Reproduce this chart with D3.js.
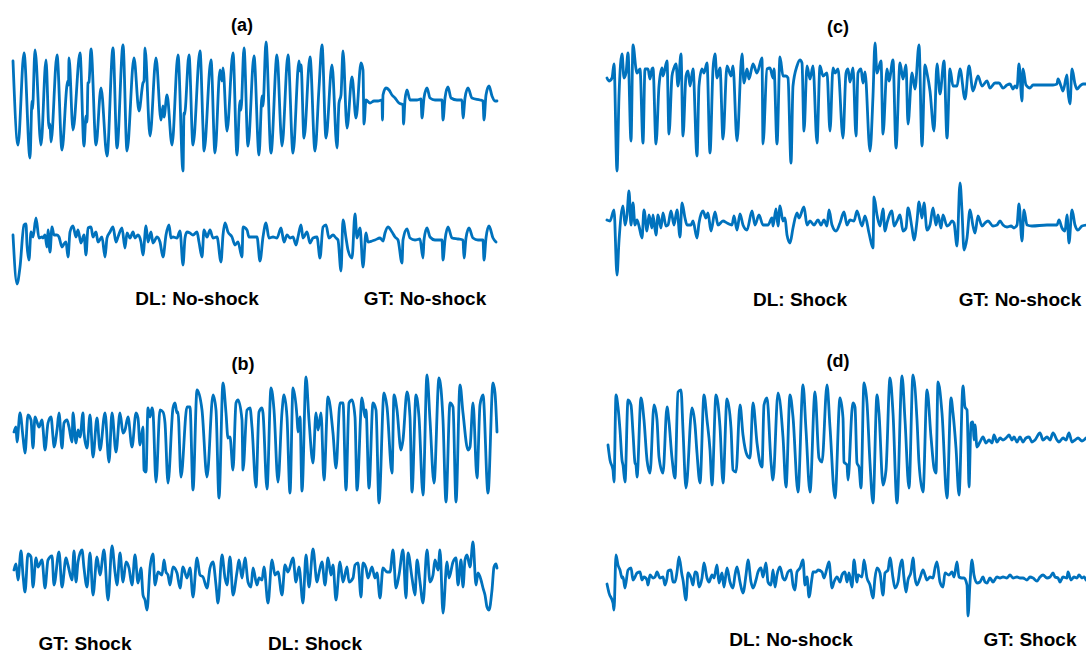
<!DOCTYPE html>
<html>
<head>
<meta charset="utf-8">
<script src="https://cdn.jsdelivr.net/npm/d3@7"></script>
<style>
  body { margin: 0; background: #fff; }
  svg { display: block; }
  text { font-family: "Liberation Sans", Arial, sans-serif; font-weight: bold; fill: #000; }
</style>
</head>
<body>
<svg id="chart" width="1086" height="653"></svg>
<script>
// traces: [sample, amplitude] pairs
var aTop = [[1,39],[6,-45],[12,47],[18,-58],[20,-1],[20.5,-9],[23,50],[29,-45],[34,40],[37,-28],[38,-24],[39,-42],[45,45],[50,-50],[55,15],[56,19],[56.5,15],[57,42],[61,-30],[68,47],[72,-46],[74,-16],[75,-22],[76,17],[77,18],[79,51],[84,-45],[89,12],[95,-56],[101,52],[105,-48],[111,55],[115,-51],[122,42],[127,-11],[131,17],[132,19],[133,52],[138,-36],[144,42],[149,-20],[151,-6],[152,-17],[155,5],[160,-45],[166,45],[171,-71],[172,-13],[172.5,-15],[177,45],[181,-45],[188,49],[191,-28],[192,-51],[199,40],[203,-53],[208,30],[210,19],[211,32],[215,-31],[221,47],[225,-55],[228,-1],[229,-10],[232,52],[236,-46],[242,44],[247,-55],[250,4],[251,-6],[254,58],[259,-53],[265,45],[269,-35],[270,-46],[276,45],[281,-53],[287,39],[288,29],[289,35],[292,-38],[298,43],[303,-51],[307,12],[310,55],[314,-38],[320,35],[325,-48],[327,-3],[329,5],[331,49],[335,-28],[340,23],[344,-18],[349,37],[351,30],[352,-24],[354,0],[358,-3],[362,-1],[366,-1],[370,0],[370.5,-20],[371,5],[374,12],[377,10],[380,5],[383,2],[387,-3],[391,-5],[391.5,-24],[393,0],[395,10],[398,0],[405,0],[409,1],[410,-18],[412,2],[415,12],[418,2],[423,0],[430,0],[431,-20],[433,2],[436,13],[439,2],[445,0],[450,0],[451,-18],[453,2],[456,12],[460,2],[468,0],[471,-1],[472,-20],[474,5],[477,14],[480,4],[483,-1],[485,-1]];
var aBottom = [[1,5],[5,-44],[8,-27],[12,15],[14,16],[15,-5],[17,-20],[19,8],[21,3],[24,22],[27,2],[30,3],[31,2],[33,5],[35,-7],[36,10],[38,-12],[40,13],[42,5],[45,5],[47,3],[50,-7],[52,-4],[54,-2],[56,-17],[58,8],[61,14],[64,3],[66,10],[69,-3],[72,5],[74,-15],[76,12],[79,13],[81,3],[84,8],[86,-2],[90,3],[93,-17],[95,2],[98,8],[101,13],[104,-2],[106,3],[110,12],[113,-8],[115,7],[118,2],[121,8],[123,2],[126,5],[129,-2],[131,-15],[134,14],[136,-2],[139,8],[141,-3],[145,3],[148,-2],[151,-17],[154,5],[157,15],[159,2],[161,3],[165,2],[168,9],[171,-25],[173,2],[175,8],[178,7],[181,5],[185,8],[187,-2],[190,-17],[192,10],[195,3],[198,10],[201,2],[205,3],[209,-22],[211,5],[213,17],[216,8],[220,3],[223,-5],[226,-2],[230,-17],[231,13],[235,10],[237,3],[241,3],[245,3],[248,-21],[251,3],[254,17],[257,2],[261,3],[265,2],[269,12],[272,-2],[275,5],[278,2],[281,3],[284,-5],[286,3],[289,15],[291,2],[295,8],[298,-3],[301,2],[305,3],[308,-18],[311,13],[314,15],[317,2],[321,5],[324,2],[326,0],[329,-31],[331,20],[334,2],[336,-10],[340,-18],[343,26],[345,2],[348,12],[351,-27],[354,7],[356,-2],[360,-1],[363,0],[368,2],[371,-1],[373,7],[376,13],[380,8],[383,3],[386,0],[390,-23],[391,0],[395,11],[398,2],[403,0],[408,1],[411,-18],[412,0],[415,12],[418,3],[423,0],[430,0],[431,-20],[433,0],[436,13],[440,2],[446,1],[451,0],[452,-18],[454,2],[457,12],[461,2],[466,0],[471,0],[472,-20],[474,2],[477,14],[481,2],[484,-2]];
var bTop = [[2,3],[4,8],[5,-7],[8,22],[11,-2],[13,-18],[16,20],[19,15],[21,-13],[23,18],[25,13],[27,8],[30,15],[31,7],[33,-15],[36,12],[39,18],[41,-2],[42,-12],[45,5],[47,22],[50,-13],[52,12],[55,15],[57,8],[60,-7],[61,22],[64,-8],[66,5],[68,-2],[71,22],[72,2],[75,-13],[78,20],[81,-22],[85,17],[88,-15],[93,22],[97,-27],[100,22],[104,-17],[108,22],[111,2],[113,5],[116,18],[120,-12],[124,22],[126,17],[128,-10],[131,8],[132,-35],[134,-37],[136,27],[138,18],[140,27],[141,23],[144,-47],[148,25],[151,23],[153,12],[156,-48],[161,27],[163,32],[165,22],[166,23],[169,-42],[175,28],[178,28],[181,-55],[185,45],[190,25],[195,-42],[201,40],[204,25],[207,-63],[211,52],[214,22],[216,-3],[218,-2],[221,-35],[224,32],[226,35],[230,15],[231,-35],[235,25],[238,27],[240,8],[244,-52],[247,23],[250,27],[251,22],[255,-54],[259,47],[262,25],[266,-47],[270,23],[272,40],[275,18],[278,-58],[281,47],[285,18],[286,3],[288,18],[290,-56],[294,58],[297,15],[301,-28],[304,22],[306,5],[309,22],[312,-45],[316,38],[321,2],[324,-33],[328,32],[331,32],[334,-55],[337,32],[340,35],[343,18],[345,-55],[350,37],[353,18],[354,25],[357,-53],[361,32],[364,25],[367,-68],[372,42],[375,28],[380,-38],[382,40],[385,25],[389,-15],[391,-5],[395,43],[398,18],[400,-57],[404,40],[407,18],[411,-60],[415,60],[418,15],[422,-48],[427,57],[431,15],[434,-67],[438,32],[441,28],[444,-67],[448,50],[451,22],[456,-15],[458,-12],[461,32],[465,-43],[468,30],[471,40],[476,-58],[481,52],[483,42],[485,3]];
var bBottom = [[2,0],[4,6],[6,-10],[9,19],[11,-5],[13,-22],[16,16],[19,13],[21,-17],[24,12],[26,3],[30,10],[33,-18],[36,10],[40,14],[42,-15],[47,18],[50,-17],[54,12],[56,5],[60,-10],[62,19],[64,-12],[66,8],[70,20],[72,2],[75,-17],[78,17],[81,-25],[85,13],[88,-5],[92,20],[96,-30],[100,24],[103,-2],[105,-15],[108,17],[111,-12],[114,8],[117,2],[120,-15],[123,15],[126,-13],[129,2],[131,-25],[133,-30],[135,-40],[138,2],[141,16],[143,-15],[146,-2],[150,-5],[152,10],[154,-2],[156,-5],[158,-15],[161,3],[165,-3],[168,-18],[171,3],[175,-8],[178,2],[181,-27],[185,12],[188,-5],[191,-7],[195,-18],[198,2],[201,8],[204,-15],[206,-33],[210,15],[213,-8],[215,-15],[218,13],[221,-25],[225,-2],[227,10],[230,-8],[233,12],[236,-12],[239,-17],[241,2],[245,-15],[247,-8],[250,-10],[252,3],[256,-33],[260,10],[263,-5],[266,-2],[270,-25],[273,5],[276,-2],[281,12],[284,-12],[287,3],[291,-33],[294,15],[297,-17],[301,21],[305,-12],[307,-3],[310,8],[313,-15],[316,12],[319,-5],[321,5],[324,-30],[328,8],[331,-12],[335,3],[337,-12],[341,-8],[343,5],[346,7],[349,-27],[351,7],[354,2],[356,-8],[360,3],[363,-8],[365,-3],[368,-28],[371,2],[375,-2],[378,-2],[381,20],[384,-18],[387,-5],[391,20],[394,-28],[396,17],[400,-8],[403,-25],[405,10],[408,-12],[411,-33],[415,20],[418,-12],[421,-5],[423,10],[426,0],[428,20],[431,-43],[435,8],[437,-8],[441,8],[444,12],[446,-15],[449,10],[451,-17],[453,10],[455,15],[458,3],[461,28],[464,-15],[466,-3],[469,-10],[471,-18],[473,-25],[475,-37],[477,-40],[480,-20],[482,3],[484,6],[485,2]];
var cTop = [[0,7],[2,4],[5,7],[7,21],[10,-86],[12,-11],[15,31],[17,7],[19,12],[21,32],[24,-56],[26,40],[29,16],[30,12],[33,16],[36,-58],[38,16],[41,16],[43,6],[45,16],[46,17],[49,-59],[52,-1],[55,17],[56,9],[60,24],[62,-49],[65,9],[67,17],[69,21],[71,-1],[74,31],[76,-51],[79,9],[81,14],[83,-1],[86,16],[90,-71],[92,-1],[95,16],[97,12],[100,22],[103,-68],[106,16],[108,31],[110,7],[113,17],[116,-54],[120,19],[124,9],[126,19],[130,-56],[135,31],[137,2],[140,16],[142,6],[146,21],[150,12],[155,27],[156,-59],[160,16],[163,17],[166,7],[167,16],[170,-59],[173,28],[176,9],[179,9],[181,7],[184,-78],[186,-1],[190,19],[193,25],[195,22],[197,-46],[200,19],[203,6],[206,19],[210,-58],[213,19],[216,9],[220,12],[223,-46],[226,17],[228,12],[231,16],[236,-53],[239,12],[241,16],[243,3],[246,17],[249,-51],[251,12],[254,16],[256,2],[258,13],[263,-66],[266,-11],[268,42],[270,12],[274,24],[276,-49],[280,16],[282,4],[286,25],[289,-63],[293,22],[296,6],[299,20],[301,-39],[305,12],[308,-4],[312,40],[315,-61],[318,20],[320,12],[323,-6],[327,-46],[330,21],[333,-9],[337,24],[340,-53],[343,16],[346,-1],[350,-1],[353,16],[358,-14],[362,19],[366,-6],[371,9],[375,-1],[380,4],[383,-3],[388,2],[392,2],[396,-3],[400,0],[403,1],[406,-4],[408,-1],[410,-3],[412,21],[415,-16],[416,16],[419,0],[423,-3],[426,0],[433,0],[446,0],[450,1],[451,6],[454,-1],[456,-6],[460,10],[461,-6],[463,-19],[465,16],[468,1],[470,-4],[473,-1],[476,1],[479,1]];
var cBottom = [[0,5],[3,4],[7,15],[10,-50],[12,-16],[16,19],[18,0],[20,10],[22,34],[24,0],[26,22],[28,0],[30,5],[32,-1],[35,-13],[37,15],[40,-6],[42,10],[45,-3],[46,10],[49,-10],[51,10],[54,-3],[56,12],[59,-1],[61,0],[64,14],[67,0],[70,15],[73,-12],[75,22],[78,7],[80,0],[84,0],[86,4],[90,-13],[92,2],[96,14],[99,7],[101,12],[104,-6],[108,13],[111,0],[116,4],[120,2],[125,0],[127,9],[130,-5],[133,11],[136,0],[140,-5],[145,14],[148,0],[152,10],[156,0],[161,0],[165,7],[166,-1],[169,16],[171,-1],[173,19],[176,4],[178,7],[180,-10],[183,-18],[186,-3],[190,12],[192,7],[197,18],[200,0],[203,4],[207,0],[211,5],[214,0],[217,5],[220,-1],[222,15],[225,0],[229,-6],[233,2],[237,13],[240,0],[243,5],[247,4],[250,14],[255,-1],[258,9],[262,-8],[266,-23],[267,28],[270,10],[273,-1],[276,16],[278,-6],[280,2],[285,14],[287,-1],[290,4],[293,10],[296,-6],[299,-3],[301,17],[305,-3],[307,-15],[310,4],[312,23],[315,7],[317,22],[320,-5],[323,0],[326,17],[329,0],[331,10],[334,-3],[336,10],[340,-1],[342,0],[345,4],[347,2],[350,-21],[353,42],[355,14],[357,-25],[360,-13],[363,15],[366,-1],[368,-8],[371,9],[375,-1],[378,2],[381,4],[386,-1],[390,0],[393,4],[396,0],[400,-2],[404,-1],[407,-3],[410,0],[412,21],[415,-16],[417,15],[420,0],[425,-1],[440,0],[450,0],[452,5],[455,-3],[458,-6],[460,10],[462,-18],[465,15],[468,0],[471,-5],[475,-1],[480,0]];
var dTop = [[1,-7],[3,-22],[6,-32],[7,-44],[9,43],[11,31],[13,8],[15,-22],[16,-27],[18,-44],[21,38],[24,33],[26,5],[28,-25],[29,-27],[30,-39],[34,40],[37,18],[40,-22],[43,-35],[47,33],[50,18],[52,-19],[56,-35],[60,31],[62,16],[65,-20],[68,-40],[71,46],[74,48],[76,8],[79,-50],[85,30],[88,13],[90,-15],[93,-45],[97,43],[100,18],[103,-12],[105,-47],[109,43],[113,11],[116,-45],[120,39],[124,10],[126,-32],[129,-34],[133,33],[136,3],[140,-17],[143,-20],[146,35],[150,-5],[153,-25],[155,-29],[157,33],[160,40],[164,-24],[166,-42],[171,45],[176,1],[179,-49],[183,43],[186,21],[191,-54],[196,53],[199,8],[203,-54],[208,46],[212,-20],[215,-24],[220,53],[223,11],[228,-60],[233,40],[236,20],[237,-24],[240,-27],[241,-42],[245,28],[246,35],[248,31],[250,-25],[252,-29],[254,-50],[257,55],[260,35],[263,-25],[266,-65],[270,43],[272,25],[276,-47],[279,-32],[283,60],[286,25],[290,-65],[295,62],[298,18],[302,-50],[306,63],[310,18],[312,-25],[316,-54],[320,48],[324,1],[327,-30],[329,-35],[331,56],[335,25],[340,-60],[344,40],[346,25],[349,-10],[352,-57],[356,52],[358,31],[360,28],[361,-5],[362,-49],[364,15],[366,16],[367,-2],[368,13],[370,-9],[373,-4],[376,1],[379,-5],[382,-2],[385,-5],[387,3],[390,-4],[393,0],[396,-2],[400,1],[402,3],[405,-2],[407,1],[410,-4],[413,1],[416,-4],[419,0],[422,1],[425,-4],[428,-2],[433,5],[436,-2],[440,1],[443,-2],[446,5],[450,-2],[452,-4],[456,0],[459,-2],[462,5],[465,-4],[468,-2],[471,0],[475,-3],[479,0]];
var dBottom = [[0,-6],[2,-15],[6,-25],[7,-32],[9,23],[11,13],[13,8],[15,0],[16,1],[18,-10],[21,8],[24,10],[26,-2],[28,1],[30,5],[33,6],[35,-2],[37,1],[40,-2],[41,-7],[43,3],[46,0],[48,1],[50,6],[53,0],[56,1],[58,-7],[60,0],[61,7],[64,8],[66,-4],[68,-4],[70,6],[72,21],[75,3],[76,-2],[79,-22],[81,5],[84,0],[86,-7],[88,6],[90,5],[92,-9],[95,0],[97,15],[100,0],[102,-4],[105,3],[107,0],[110,13],[112,-5],[115,5],[117,-9],[120,10],[123,-4],[126,-10],[128,3],[130,11],[133,-4],[136,-15],[139,3],[141,18],[144,-4],[146,-10],[149,-2],[151,6],[154,10],[156,1],[159,15],[161,-4],[164,-7],[166,8],[168,-9],[170,3],[173,11],[176,0],[178,-2],[181,6],[184,8],[186,-7],[188,-12],[190,6],[193,10],[196,18],[198,-7],[200,1],[202,-19],[205,0],[206,6],[209,6],[211,8],[215,6],[217,0],[220,10],[222,16],[225,-10],[227,-4],[230,1],[233,-4],[235,3],[238,6],[240,-4],[242,5],[245,-9],[247,18],[250,-4],[251,3],[255,1],[257,18],[260,0],[263,-7],[266,-20],[268,0],[270,10],[273,5],[276,-17],[278,5],[281,8],[283,20],[286,0],[288,-10],[291,-4],[293,11],[295,18],[297,0],[299,-14],[301,-2],[304,6],[306,20],[308,0],[310,-7],[313,0],[316,8],[318,3],[320,-2],[323,1],[326,0],[328,10],[330,16],[333,-4],[336,-9],[338,5],[342,3],[345,6],[347,1],[350,16],[352,1],[355,0],[357,0],[360,-7],[361,-38],[363,-5],[365,18],[367,3],[370,-5],[373,-4],[376,1],[378,-4],[380,-5],[383,0],[386,-4],[390,1],[393,0],[396,1],[400,0],[403,3],[406,0],[410,1],[413,0],[416,0],[420,-2],[423,1],[426,0],[430,-3],[433,1],[436,3],[440,0],[443,1],[446,5],[448,1],[451,0],[453,-4],[456,1],[460,0],[461,6],[464,-2],[467,1],[470,0],[472,3],[475,0],[477,1],[479,-2]];

var panelTitles = ["(a)", "(b)", "(c)", "(d)"];
var leftLabels = ["DL: No-shock", "GT: Shock", "DL: Shock", "DL: No-shock"];
var rightLabels = ["GT: No-shock", "DL: Shock", "GT: No-shock", "GT: Shock"];

var lineColor = "#0072BD";
var svg = d3.select("#chart");

// left column spans 12..497, right column 607..1086
var xLeft = d3.scaleLinear().domain([0, 485]).range([12, 497]);
var xRight = d3.scaleLinear().domain([0, 479]).range([607, 1086]);

var panels = [
    {x: xLeft,  top: aTop, bottom: aBottom, base: [100, 240], titleY: 31,  titleX: 242, labY: 305, labX: [197, 425]},
    {x: xLeft,  top: bTop, bottom: bBottom, base: [435, 570], titleY: 370, titleX: 243, labY: 650, labX: [85, 315]},
    {x: xRight, top: cTop, bottom: cBottom, base: [85, 225],  titleY: 33,  titleX: 838, labY: 306, labX: [800, 1020]},
    {x: xRight, top: dTop, bottom: dBottom, base: [438, 578], titleY: 367, titleX: 838, labY: 646, labX: [791, 1030]}
];

function drawTrace(data, xs, baseline) {
    var y = d3.scaleLinear().domain([-100, 100]).range([baseline + 100, baseline - 100]);
    var line = d3.line()
        .curve(d3.curveMonotoneX)
        .x(function(d) { return xs(d[0]); })
        .y(function(d) { return y(d[1]); });
    svg.append("path")
        .datum(data)
        .attr("d", line)
        .attr("fill", "none")
        .attr("stroke", lineColor)
        .attr("stroke-width", 2.8)
        .attr("stroke-linejoin", "round")
        .attr("stroke-linecap", "round");
}

panels.forEach(function(p, i) {
    drawTrace(p.top, p.x, p.base[0]);
    drawTrace(p.bottom, p.x, p.base[1]);

    svg.append("text")
        .attr("x", p.titleX)
        .attr("y", p.titleY)
        .attr("text-anchor", "middle")
        .style("font-size", "18px")
        .text(panelTitles[i]);

    svg.append("text")
        .attr("x", p.labX[0])
        .attr("y", p.labY)
        .attr("text-anchor", "middle")
        .style("font-size", "19px")
        .text(leftLabels[i]);
    svg.append("text")
        .attr("x", p.labX[1])
        .attr("y", p.labY)
        .attr("text-anchor", "middle")
        .style("font-size", "19px")
        .text(rightLabels[i]);
});
</script>
</body>
</html>
